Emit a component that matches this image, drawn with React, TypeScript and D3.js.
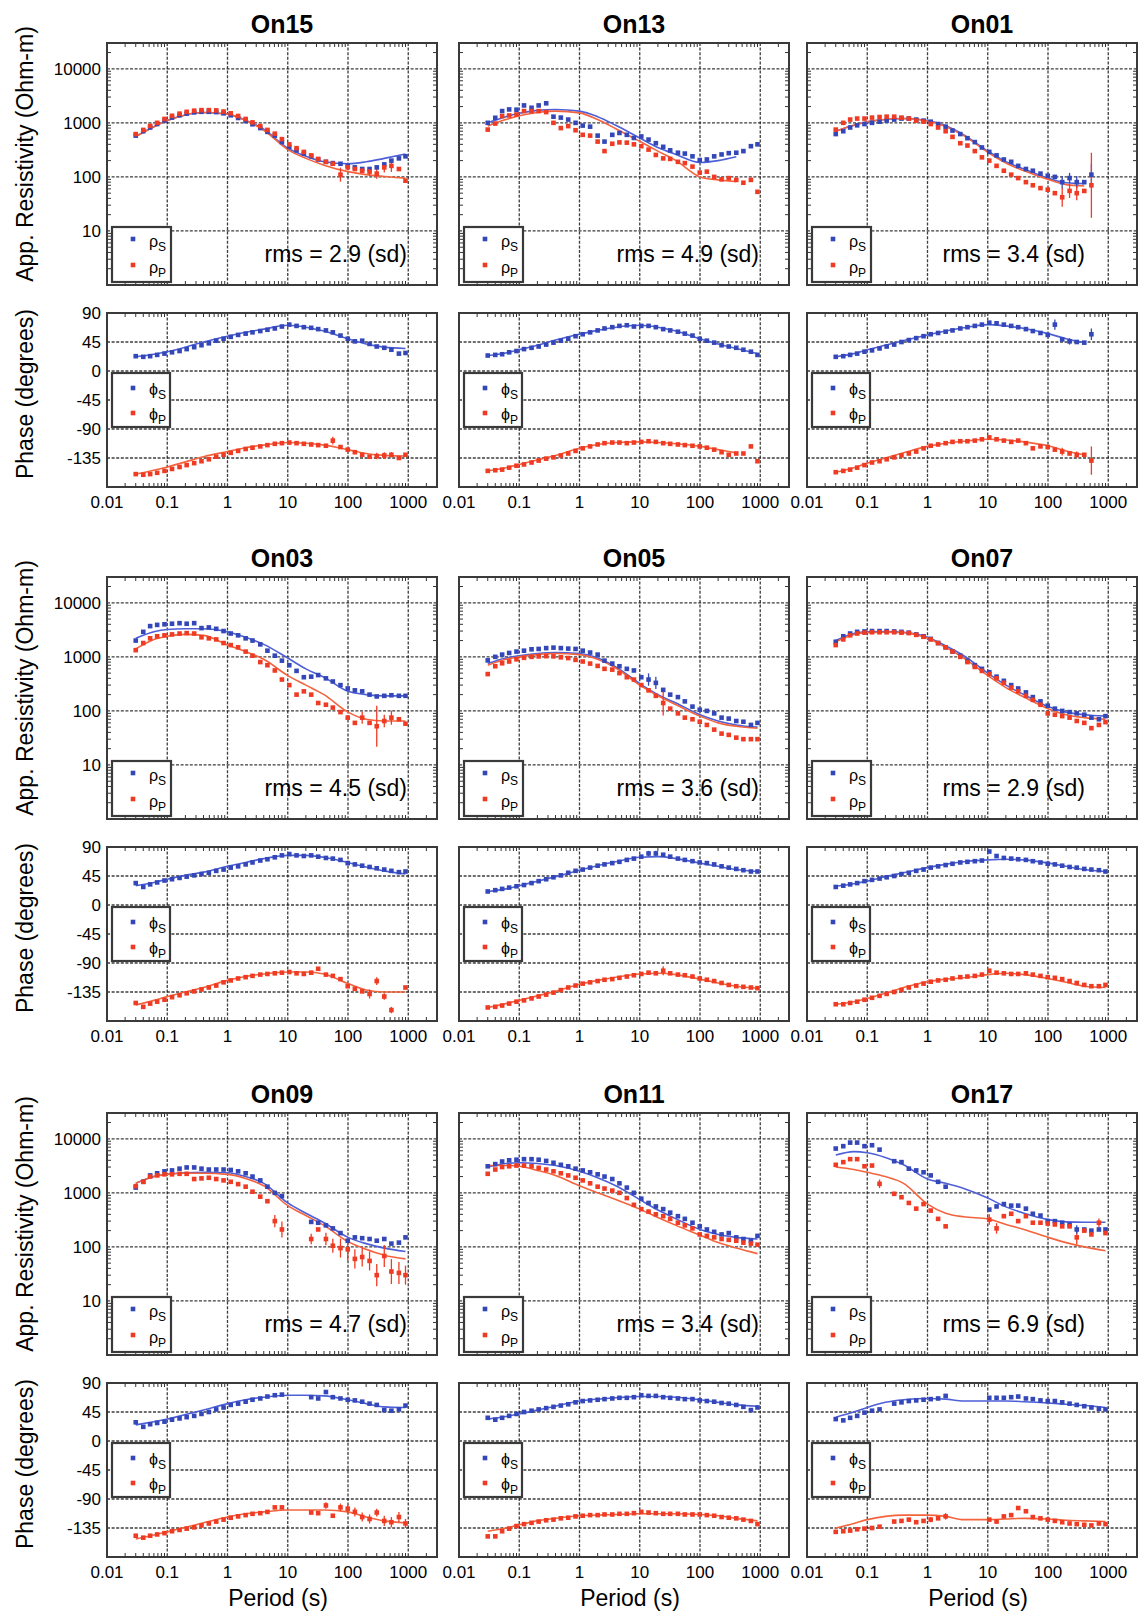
import React from 'react'
import * as d3 from 'd3'

// periods of the observed data points (s)
const PERIODS = [0.03, 0.04, 0.052, 0.068, 0.09, 0.12, 0.16, 0.21, 0.28, 0.37, 0.49, 0.65, 0.86, 1.13, 1.5, 2, 2.6, 3.5, 4.6, 6.1, 8, 10.6, 14, 18.5, 24.5, 32, 43, 56, 75, 99, 130, 172, 228, 300, 400, 525, 700, 900]
// periods at which the model responses are sampled
const MODEL_PERIODS = [0.03, 0.06, 0.1, 0.2, 0.4, 1, 2, 4, 10, 20, 40, 100, 200, 400, 900]

const X_TICKS = [0.01, 0.1, 1, 10, 100, 1000]
const X_TICK_LABELS = ['0.01', '0.1', '1', '10', '100', '1000']
const RHO_TICKS = [10, 100, 1000, 10000]
const PHASE_TICKS = [90, 45, 0, -45, -90, -135]
const PHASE_GRID = [45, 0, -45, -90, -135]

// ---- On15
const ON15_RHO_S = [580, 700, 820, 950, 1100, 1250, 1380, 1480, 1560, 1600, 1600, 1580, 1500, 1380, 1230, 1080, 940, 800, 680, 580, 440, 360, 310, 270, 240, 210, 190, 180, 175, 160, 150, 140, 140, 150, 170, 200, 220, 240]
const ON15_RHO_P = [620, 740, 880, 1000, 1180, 1350, 1480, 1600, 1680, 1720, 1720, 1700, 1620, 1500, 1340, 1180, 1020, 870, 740, 630, 500, 400, 340, 290, 250, 215, 190, 175, 110, 150, 140, 130, 125, 115, 150, 160, 140, 85]
const ON15_PHI_S = [23, 22, 23, 25, 27, 29, 31, 34, 37, 40, 43, 47, 50, 53, 56, 58, 60, 62, 64, 66, 69, 72, 70, 68, 67, 65, 63, 60, 55, 50, 46, 47, 42, 38, 36, 33, 27, 28]
const ON15_PHI_P = [-160, -161, -160, -158, -155, -152, -149, -146, -143, -140, -137, -133, -130, -127, -124, -121, -119, -117, -115, -113, -112, -111, -112, -113, -114, -115, -116, -108, -118, -122, -126, -130, -133, -132, -131, -130, -135, -130]
const ON15_MOD_RHO_S = [560, 850, 1100, 1400, 1550, 1450, 1120, 760, 340, 240, 190, 175, 190, 220, 265]
const ON15_MOD_RHO_P = [560, 850, 1100, 1400, 1550, 1450, 1100, 730, 320, 220, 165, 125, 110, 102, 95]
const ON15_MOD_PHI_S = [22, 26, 30, 37, 45, 54, 60, 65, 71, 68, 62, 50, 42, 37, 35]
const ON15_MOD_PHI_P = [-160, -154, -149, -141, -133, -125, -119, -115, -111, -112, -115, -122, -128, -131, -132]
const ON15_ERRORS = [['rhoP', 28, 1.35], ['rhoP', 32, 1.2], ['rhoP', 33, 1.25], ['rhoP', 34, 1.25], ['rhoP', 35, 1.3], ['phiP', 27, 6], ['phiP', 33, 5], ['phiP', 34, 5], ['phiP', 35, 4]]

// ---- On13
const ON13_RHO_S = [1000, 1240, 1650, 1770, 1750, 2100, 1900, 2100, 2300, 1300, 1250, 1150, 1000, 890, 850, 580, 450, 600, 650, 600, 525, 560, 490, 420, 360, 310, 280, 270, 240, 205, 210, 240, 260, 275, 280, 300, 370, 400]
const ON13_RHO_P = [750, 970, 1330, 1370, 1430, 1650, 1650, 1650, 1580, 1000, 800, 870, 730, 600, 580, 450, 300, 410, 435, 430, 400, 370, 320, 255, 220, 215, 190, 180, 155, 120, 125, 100, 90, 95, 88, 78, 88, 53]
const ON13_PHI_S = [24, 25, 26, 29, 31, 34, 36, 38, 41, 44, 47, 50, 54, 57, 60, 63, 66, 68, 70, 71, 69, 70, 70, 68, 65, 63, 61, 58, 55, 50, 47, 44, 40, 38, 36, 33, 30, 25]
const ON13_PHI_P = [-155, -154, -153, -150, -147, -145, -142, -139, -136, -134, -131, -128, -124, -120, -117, -114, -112, -111, -111, -112, -111, -110, -109, -110, -112, -113, -114, -115, -116, -117, -119, -122, -126, -130, -128, -128, -117, -140]
const ON13_MOD_RHO_S = [1000, 1300, 1500, 1700, 1770, 1650, 1300, 900, 525, 350, 260, 185, 200, 235, null]
const ON13_MOD_RHO_P = [870, 1150, 1350, 1550, 1650, 1530, 1150, 780, 455, 300, 200, 100, 88, 82, null]
const ON13_MOD_PHI_S = [24, 28, 33, 40, 48, 57, 63, 68, 71, 68, 62, 50, 42, 35, 27]
const ON13_MOD_PHI_P = [-155, -150, -145, -138, -131, -120, -114, -111, -110, -111, -113, -117, -122, -127, null]
const ON13_ERRORS = []

// ---- On01
const ON01_RHO_S = [620, 700, 820, 900, 950, 1000, 1050, 1100, 1150, 1200, 1200, 1150, 1100, 1050, 950, 850, 720, 620, 520, 440, 350, 290, 250, 210, 190, 160, 140, 130, 115, 105, 100, 80, 95, 80, 80, 110, null, null]
const ON01_RHO_P = [750, 1000, 1150, 1200, 1200, 1250, 1280, 1300, 1300, 1250, 1200, 1100, 1050, 950, 820, 700, 550, 420, 380, 300, 230, 200, 160, 130, 110, 95, 80, 70, 62, 58, 50, 42, 55, 50, 55, 70, null, null]
const ON01_PHI_S = [22, 23, 25, 27, 30, 32, 35, 38, 41, 45, 48, 51, 54, 57, 59, 61, 63, 66, 68, 70, 72, 75, 74, 72, 70, 68, 65, 62, 59, 56, 72, 49, 46, 45, 44, 57, null, null]
const ON01_PHI_P = [-157, -155, -153, -150, -146, -142, -140, -137, -134, -131, -128, -125, -120, -116, -114, -112, -110, -109, -109, -108, -106, -103, -106, -108, -110, -108, -112, -120, -117, -118, -122, -125, -128, -130, -130, -139, null, null]
const ON01_MOD_RHO_S = [700, 900, 1050, 1150, 1200, 1100, 880, 600, 300, 190, 140, 95, 78, 75, null]
const ON01_MOD_RHO_P = [700, 900, 1050, 1150, 1200, 1080, 860, 580, 285, 180, 130, 90, 72, 68, null]
const ON01_MOD_PHI_S = [22, 27, 33, 40, 47, 56, 62, 67, 72, 70, 66, 58, 50, 44, null]
const ON01_MOD_PHI_P = [-157, -150, -143, -135, -127, -117, -112, -109, -106, -107, -110, -116, -124, -130, null]
const ON01_ERRORS = [['rhoS', 31, 1.3], ['rhoS', 32, 1.25], ['rhoS', 33, 1.3], ['rhoS', 35, 1.6], ['rhoP', 31, 1.5], ['rhoP', 32, 1.35], ['rhoP', 33, 1.35], ['rhoP', 35, 4], ['phiS', 30, 8], ['phiS', 32, 5], ['phiS', 35, 9], ['phiP', 31, 6], ['phiP', 33, 5], ['phiP', 35, 22]]

// ---- On03
const ON03_RHO_S = [2000, 2900, 3700, 3900, 4000, 4100, 4200, 4100, 4200, 3400, 3500, 3300, 3000, 2700, 2500, 2200, 2000, 1700, 1300, 1050, 850, 700, 550, 420, 430, 460, 400, 350, 300, 260, 240, 230, 200, 185, 190, 195, 190, 190]
const ON03_RHO_P = [1330, 1800, 2200, 2400, 2500, 2600, 2700, 2750, 2700, 2300, 2200, 2100, 1800, 1650, 1500, 1250, 1050, 800, 700, 560, 380, 300, 200, 230, 200, 140, 130, 115, 95, 75, 60, 75, 60, 52, 65, 75, 70, 58]
const ON03_PHI_S = [34, 28, 32, 35, 38, 40, 42, 44, 46, 48, 50, 53, 55, 58, 60, 63, 66, 69, 71, 74, 77, 79, 77, 76, 77, 75, 73, 72, 70, 65, 63, 61, 59, 57, 55, 53, 51, 52]
const ON03_PHI_P = [-152, -158, -153, -150, -147, -143, -140, -137, -134, -131, -128, -125, -120, -117, -114, -112, -110, -108, -107, -106, -105, -104, -106, -107, -105, -99, -108, -110, -115, -126, -130, -134, -138, -118, -142, -163, null, -128]
const ON03_MOD_RHO_S = [2200, 2900, 3200, 3300, 3300, 2900, 2300, 1700, 950, 600, 420, 230, 200, 190, 190]
const ON03_MOD_RHO_P = [1400, 2100, 2400, 2600, 2500, 1650, 1250, 900, 450, 300, 200, 95, 70, 65, 65]
const ON03_MOD_PHI_S = [30, 35, 40, 46, 51, 60, 66, 72, 77, 77, 74, 66, 59, 53, 48]
const ON03_MOD_PHI_P = [-155, -148, -142, -135, -128, -117, -111, -107, -104, -104, -107, -122, -132, -135, -135]
const ON03_ERRORS = [['rhoP', 31, 1.3], ['rhoP', 33, 2.4], ['rhoP', 34, 1.3], ['rhoP', 35, 1.35], ['phiP', 32, 7], ['phiP', 33, 6], ['phiP', 34, 5], ['phiP', 35, 5]]

// ---- On05
const ON05_RHO_S = [860, 1000, 1100, 1180, 1250, 1300, 1380, 1400, 1450, 1480, 1450, 1420, 1400, 1300, 1200, 1100, 850, 750, 670, 600, 560, 420, 380, 330, 245, 200, 180, 150, 120, 105, 100, 90, 75, 72, 65, 63, 55, 60]
const ON05_RHO_P = [480, 670, 760, 820, 900, 960, 1000, 1020, 1030, 1020, 980, 950, 880, 820, 750, 680, 600, 580, 500, 420, 380, 300, 240, 190, 140, 110, 90, 75, 70, 63, 55, 45, 38, 36, 32, 30, 30, 30]
const ON05_PHI_S = [21, 23, 25, 27, 29, 31, 34, 37, 40, 43, 46, 50, 53, 55, 58, 61, 63, 65, 67, 70, 72, 75, 80, 80, 78, 75, 72, 70, 68, 66, 65, 63, 60, 58, 56, 54, 52, 52]
const ON05_PHI_P = [-159, -158, -156, -153, -150, -148, -145, -142, -139, -136, -132, -128, -125, -122, -120, -118, -116, -115, -113, -111, -109, -107, -105, -106, -102, -106, -108, -109, -111, -114, -116, -118, -121, -124, -126, -127, -128, -129]
const ON05_MOD_RHO_S = [750, 950, 1050, 1150, 1200, 1150, 950, 650, 320, 200, 140, 85, 65, 55, 50]
const ON05_MOD_RHO_P = [700, 900, 1000, 1100, 1150, 1100, 900, 620, 300, 190, 130, 80, 60, 52, 48]
const ON05_MOD_PHI_S = [21, 25, 30, 37, 44, 54, 61, 67, 74, 75, 72, 65, 60, 55, 52]
const ON05_MOD_PHI_P = [-159, -153, -148, -141, -134, -123, -117, -112, -107, -106, -108, -115, -121, -126, -129]
const ON05_ERRORS = [['rhoS', 22, 1.3], ['rhoS', 23, 1.3], ['rhoP', 24, 1.7], ['phiS', 22, 4], ['phiS', 23, 4], ['phiP', 24, 7]]

// ---- On07
const ON07_RHO_S = [1900, 2400, 2700, 2900, 2950, 3000, 3000, 3000, 2950, 2900, 2800, 2600, 2400, 2150, 1800, 1500, 1250, 1050, 850, 700, 600, 520, 430, 360, 300, 260, 220, 180, 150, 125, 110, 100, 95, 90, 85, 75, 70, 80]
const ON07_RHO_P = [1650, 2100, 2500, 2700, 2800, 2850, 2850, 2850, 2850, 2800, 2750, 2550, 2350, 2100, 1800, 1500, 1250, 1000, 800, 650, 550, 480, 400, 330, 270, 230, 190, 160, 130, 90, 85, 80, 75, 65, 60, 48, 55, 62]
const ON07_PHI_S = [28, 30, 32, 34, 37, 39, 41, 43, 45, 48, 50, 53, 55, 58, 60, 62, 64, 66, 67, 68, 69, 83, 76, 73, 72, 71, 70, 68, 66, 64, 63, 61, 59, 58, 56, 55, 54, 52]
const ON07_PHI_P = [-154, -154, -152, -150, -147, -144, -141, -138, -135, -132, -128, -125, -122, -119, -117, -116, -114, -112, -111, -110, -108, -102, -105, -106, -107, -107, -106, -108, -110, -112, -113, -115, -118, -121, -124, -126, -126, -124]
const ON07_MOD_RHO_S = [2000, 2700, 2900, 2950, 2850, 2300, 1600, 1050, 500, 300, 200, 120, 95, 85, 80]
const ON07_MOD_RHO_P = [1900, 2600, 2800, 2850, 2800, 2200, 1500, 950, 450, 270, 180, 110, 85, 75, 70]
const ON07_MOD_PHI_S = [29, 33, 37, 44, 50, 58, 63, 67, 70, 71, 70, 65, 60, 55, 52]
const ON07_MOD_PHI_P = [-154, -150, -145, -137, -128, -119, -115, -113, -108, -106, -108, -114, -120, -126, -128]
const ON07_ERRORS = []

// ---- On09
const ON09_RHO_S = [1250, 1600, 2100, 2300, 2500, 2600, 2800, 2950, 2950, 2800, 2700, 2700, 2700, 2650, 2500, 2300, 2000, 1700, 1300, 1000, 870, null, null, null, 290, 280, 250, 220, 180, 130, 150, 145, 140, 130, 140, 115, 120, 150]
const ON09_RHO_P = [1330, 1600, 2000, 2100, 2200, 2200, 2250, 2250, 1800, 1850, 1900, 1800, 1700, 1600, 1450, 1300, 1050, 850, 700, 300, 210, null, null, null, 140, 210, 140, 105, 95, 90, 60, 65, 55, 30, 68, 35, 33, 30]
const ON09_PHI_S = [29, 22, 26, 28, 30, 33, 35, 37, 39, 42, 45, 49, 52, 56, 58, 61, 64, 66, 69, 71, 72, null, null, null, 68, 66, 76, 68, 66, 64, 63, 61, 58, 56, 48, 47, 49, 55]
const ON09_PHI_P = [-147, -150, -147, -145, -143, -140, -138, -136, -134, -131, -128, -125, -122, -119, -117, -115, -113, -112, -110, -103, -103, null, null, null, -111, -112, -100, -116, -103, -105, -110, -118, -121, -111, -124, -126, -118, -128]
const ON09_MOD_RHO_S = [1500, 2000, 2200, 2350, 2400, 2350, 2000, 1500, 650, 420, 280, 150, 115, 95, 82]
const ON09_MOD_RHO_P = [1500, 2000, 2200, 2300, 2300, 2200, 1850, 1350, 580, 380, 250, 125, 90, 70, 60]
const ON09_MOD_PHI_S = [25, 30, 34, 41, 48, 58, 64, 68, 71, 71, 70, 64, 58, 53, 52]
const ON09_MOD_PHI_P = [-152, -146, -141, -134, -127, -118, -113, -110, -107, -107, -107, -110, -118, -124, -127]
const ON09_ERRORS = [['rhoP', 19, 1.3], ['rhoP', 20, 1.4], ['rhoP', 24, 1.25], ['rhoP', 26, 1.3], ['rhoP', 27, 1.35], ['rhoP', 28, 1.5], ['rhoP', 29, 1.6], ['rhoP', 30, 1.5], ['rhoP', 31, 1.5], ['rhoP', 32, 1.5], ['rhoP', 33, 1.6], ['rhoP', 34, 1.6], ['rhoP', 35, 1.7], ['rhoP', 36, 1.6], ['rhoP', 37, 1.5], ['phiP', 26, 5], ['phiP', 28, 6], ['phiP', 29, 7], ['phiP', 30, 7], ['phiP', 31, 7], ['phiP', 32, 7], ['phiP', 33, 6], ['phiP', 34, 8], ['phiP', 35, 8], ['phiP', 36, 8], ['phiP', 37, 7]]

// ---- On11
const ON11_RHO_S = [3100, 3400, 3800, 4000, 4100, 4200, 4200, 4100, 3900, 3600, 3300, 3100, 2800, 2600, 2400, 2200, 2000, 1800, 1500, 1250, 1000, 780, 650, 560, 500, 430, 370, 330, 280, 240, 210, 190, 170, 180, 150, 140, 130, 160]
const ON11_RHO_P = [2250, 2700, 3000, 3100, 3200, 3200, 3100, 2900, 2700, 2500, 2300, 2100, 1900, 1700, 1500, 1300, 1200, 1100, 1000, 800, 600, 500, 450, 400, 370, 330, 280, 250, 220, 170, 160, 150, 140, 135, 130, 120, 115, 110]
const ON11_PHI_S = [36, 33, 36, 39, 42, 45, 47, 49, 51, 53, 55, 57, 60, 62, 63, 64, 65, 66, 67, 67, 68, 71, 70, 70, 68, 67, 66, 65, 65, 63, 62, 61, 59, 58, 56, 53, 48, 52]
const ON11_PHI_P = [-148, -148, -140, -136, -132, -129, -127, -125, -123, -122, -120, -119, -117, -116, -115, -115, -114, -114, -113, -113, -112, -110, -111, -112, -113, -113, -113, -114, -114, -114, -115, -116, -118, -119, -120, -122, -124, -129]
const ON11_MOD_RHO_S = [3000, 3500, 3600, 3500, 3200, 2500, 1900, 1350, 750, 480, 330, 210, 170, 150, 140]
const ON11_MOD_RHO_P = [3200, 3200, 3100, 2600, 2100, 1350, 1000, 750, 500, 350, 250, 165, 120, 95, 75]
const ON11_MOD_PHI_S = [34, 38, 42, 48, 54, 62, 65, 67, 69, 69, 68, 64, 60, 56, 54]
const ON11_MOD_PHI_P = [-140, -135, -130, -124, -120, -116, -115, -114, -113, -113, -113, -114, -116, -120, -124]
const ON11_ERRORS = []

// ---- On17
const ON17_RHO_S = [6600, 7300, 8500, 8500, 7300, 7600, 6300, null, 3850, 3700, 2800, 2600, 2400, 2100, 1600, 1300, null, null, null, null, null, 490, 560, 620, 580, 580, 510, 410, 380, 300, 300, 280, 260, 210, 210, 200, 210, 210]
const ON17_RHO_P = [3300, 3700, 4200, 4200, 3100, 3200, 1470, null, 960, 830, 650, 510, 620, 470, 330, 240, null, null, null, null, null, 320, 220, 370, 410, 300, 370, 280, 280, 270, 260, 240, 240, 150, 200, 170, 280, 180]
const ON17_PHI_S = [34, 32, 36, 39, 44, 47, 49, null, 58, 60, 62, 63, 64, 65, 66, 70, null, null, null, null, null, 67, 67, 67, 68, 69, 66, 65, 63, 62, 62, 60, 58, 56, 54, 52, 50, 49]
const ON17_PHI_P = [-141, -140, -139, -137, -136, -135, -133, null, -125, -124, -122, -126, -124, -122, -120, -117, null, null, null, null, null, -122, -125, -117, -115, -104, -109, -118, -120, -122, -124, -126, -128, -129, -130, -131, -128, -129]
const ON17_MOD_RHO_S = [5000, 5800, 5500, 4500, 3300, 1800, 1500, 1200, 800, 550, 420, 320, 290, 285, 285]
const ON17_MOD_RHO_P = [3000, 2700, 2400, 2000, 1500, 620, 420, 360, 330, 260, 210, 150, 120, 100, 85]
const ON17_MOD_PHI_S = [37, 45, 52, 60, 64, 66, 65, 62, 62, 62, 61, 59, 57, 55, 52]
const ON17_MOD_PHI_P = [-135, -128, -122, -117, -115, -115, -117, -122, -122, -121, -120, -121, -123, -124, -125]
const ON17_ERRORS = [['rhoP', 6, 1.2], ['rhoP', 21, 1.25], ['rhoP', 22, 1.25], ['rhoP', 33, 1.35], ['rhoP', 36, 1.2], ['rhoS', 33, 1.2], ['phiP', 13, 4], ['phiP', 15, 5]]

const STATIONS = [
  { name: 'On15', rms: '2.9', rhoS: ON15_RHO_S, rhoP: ON15_RHO_P, phiS: ON15_PHI_S, phiP: ON15_PHI_P, mRhoS: ON15_MOD_RHO_S, mRhoP: ON15_MOD_RHO_P, mPhiS: ON15_MOD_PHI_S, mPhiP: ON15_MOD_PHI_P, errors: ON15_ERRORS },
  { name: 'On13', rms: '4.9', rhoS: ON13_RHO_S, rhoP: ON13_RHO_P, phiS: ON13_PHI_S, phiP: ON13_PHI_P, mRhoS: ON13_MOD_RHO_S, mRhoP: ON13_MOD_RHO_P, mPhiS: ON13_MOD_PHI_S, mPhiP: ON13_MOD_PHI_P, errors: ON13_ERRORS },
  { name: 'On01', rms: '3.4', rhoS: ON01_RHO_S, rhoP: ON01_RHO_P, phiS: ON01_PHI_S, phiP: ON01_PHI_P, mRhoS: ON01_MOD_RHO_S, mRhoP: ON01_MOD_RHO_P, mPhiS: ON01_MOD_PHI_S, mPhiP: ON01_MOD_PHI_P, errors: ON01_ERRORS },
  { name: 'On03', rms: '4.5', rhoS: ON03_RHO_S, rhoP: ON03_RHO_P, phiS: ON03_PHI_S, phiP: ON03_PHI_P, mRhoS: ON03_MOD_RHO_S, mRhoP: ON03_MOD_RHO_P, mPhiS: ON03_MOD_PHI_S, mPhiP: ON03_MOD_PHI_P, errors: ON03_ERRORS },
  { name: 'On05', rms: '3.6', rhoS: ON05_RHO_S, rhoP: ON05_RHO_P, phiS: ON05_PHI_S, phiP: ON05_PHI_P, mRhoS: ON05_MOD_RHO_S, mRhoP: ON05_MOD_RHO_P, mPhiS: ON05_MOD_PHI_S, mPhiP: ON05_MOD_PHI_P, errors: ON05_ERRORS },
  { name: 'On07', rms: '2.9', rhoS: ON07_RHO_S, rhoP: ON07_RHO_P, phiS: ON07_PHI_S, phiP: ON07_PHI_P, mRhoS: ON07_MOD_RHO_S, mRhoP: ON07_MOD_RHO_P, mPhiS: ON07_MOD_PHI_S, mPhiP: ON07_MOD_PHI_P, errors: ON07_ERRORS },
  { name: 'On09', rms: '4.7', rhoS: ON09_RHO_S, rhoP: ON09_RHO_P, phiS: ON09_PHI_S, phiP: ON09_PHI_P, mRhoS: ON09_MOD_RHO_S, mRhoP: ON09_MOD_RHO_P, mPhiS: ON09_MOD_PHI_S, mPhiP: ON09_MOD_PHI_P, errors: ON09_ERRORS },
  { name: 'On11', rms: '3.4', rhoS: ON11_RHO_S, rhoP: ON11_RHO_P, phiS: ON11_PHI_S, phiP: ON11_PHI_P, mRhoS: ON11_MOD_RHO_S, mRhoP: ON11_MOD_RHO_P, mPhiS: ON11_MOD_PHI_S, mPhiP: ON11_MOD_PHI_P, errors: ON11_ERRORS },
  { name: 'On17', rms: '6.9', rhoS: ON17_RHO_S, rhoP: ON17_RHO_P, phiS: ON17_PHI_S, phiP: ON17_PHI_P, mRhoS: ON17_MOD_RHO_S, mRhoP: ON17_MOD_RHO_P, mPhiS: ON17_MOD_PHI_S, mPhiP: ON17_MOD_PHI_P, errors: ON17_ERRORS },
]

const WIDTH = 1142
const HEIGHT = 1614
const COL_LEFT = [107, 459, 807]
const ROW_TOP = [43, 577, 1113]
const PW = 330
const RES_H = 242
const GAP = 28
const PH_H = 174
const FONT = '"Liberation Sans", Arial, Helvetica, sans-serif'

const BLUE = '#3447b8'
const RED = '#f03b24'
const BLUE_LINE = '#4e5fd8'
const RED_LINE = '#f3643e'

const GRID = { stroke: '#1c1c1c', strokeWidth: 1.3, strokeDasharray: '3 1.6', opacity: 0.85 }

function Markers({ values, x, y, color }) {
  return (
    <g fill={color}>
      {values.map((v, i) =>
        v == null ? null : (
          <rect key={i} x={x(PERIODS[i]) - 2.3} y={y(v) - 2.3} width={4.6} height={4.6} />
        )
      )}
    </g>
  )
}

function Panel({ st, col, row }) {
  const left = COL_LEFT[col]
  const top = ROW_TOP[row]
  const right = left + PW
  const resBottom = top + RES_H
  const phTop = resBottom + GAP
  const phBottom = phTop + PH_H

  const x = d3.scaleLog().domain([0.01, 3000]).range([left, right])
  const yr = d3.scaleLog().domain([1, 30000]).range([resBottom, top])
  const yp = d3.scaleLinear().domain([-180, 90]).range([phBottom, phTop])

  const minorX = x.ticks().filter((t) => !X_TICKS.includes(t) && t > 0.01)
  const minorY = yr.ticks().filter((t) => ![1, 10, 100, 1000, 10000].includes(t))

  const modelLine = (yScale) =>
    d3
      .line()
      .defined((d) => d[1] != null)
      .x((d) => x(d[0]))
      .y((d) => yScale(d[1]))
      .curve(d3.curveMonotoneX)
  const mk = (vals) => MODEL_PERIODS.map((p, i) => [p, vals[i]])

  const errBars = (kind) =>
    st.errors
      .filter(([key]) => key.startsWith(kind))
      .map(([key, idx, e], k) => {
        const v = st[key][idx]
        if (v == null) return null
        const color = key.endsWith('S') ? BLUE : RED
        let y1, y2
        if (kind === 'rho') {
          y1 = Math.min(yr(v / e), resBottom)
          y2 = Math.max(yr(v * e), top)
        } else {
          y1 = Math.min(yp(v - e), phBottom)
          y2 = Math.max(yp(v + e), phTop)
        }
        const px = x(PERIODS[idx])
        return <line key={k} x1={px} x2={px} y1={y1} y2={y2} stroke={color} strokeWidth={1.3} />
      })

  const rmsRight = col === 2 ? right - 52 : right - 30
  const phaseZero = yp(0)

  return (
    <g fontFamily={FONT}>
      <text x={(left + right) / 2 + 10} y={top - 10} textAnchor="middle" fontSize={25} fontWeight="bold">
        {st.name}
      </text>

      {/* resistivity panel */}
      <rect x={left} y={top} width={PW} height={RES_H} fill="white" />
      {RHO_TICKS.map((t) => (
        <line key={t} x1={left} x2={right} y1={yr(t)} y2={yr(t)} {...GRID} />
      ))}
      {X_TICKS.slice(1).map((t) => (
        <line key={t} x1={x(t)} x2={x(t)} y1={top} y2={resBottom} {...GRID} />
      ))}
      {minorX.map((t) => (
        <g key={t} stroke="#333" strokeWidth={1}>
          <line x1={x(t)} x2={x(t)} y1={top} y2={top + 4} />
          <line x1={x(t)} x2={x(t)} y1={resBottom} y2={resBottom - 4} />
          <line x1={x(t)} x2={x(t)} y1={phTop} y2={phTop + 4} />
          <line x1={x(t)} x2={x(t)} y1={phBottom} y2={phBottom - 4} />
        </g>
      ))}
      {minorY.map((t) => (
        <g key={t} stroke="#333" strokeWidth={1}>
          <line x1={left} x2={left + 4} y1={yr(t)} y2={yr(t)} />
          <line x1={right} x2={right - 4} y1={yr(t)} y2={yr(t)} />
        </g>
      ))}
      <path d={modelLine(yr)(mk(st.mRhoS))} fill="none" stroke={BLUE_LINE} strokeWidth={1.6} />
      <path d={modelLine(yr)(mk(st.mRhoP))} fill="none" stroke={RED_LINE} strokeWidth={1.6} />
      {errBars('rho')}
      <Markers values={st.rhoS} x={x} y={yr} color={BLUE} />
      <Markers values={st.rhoP} x={x} y={yr} color={RED} />
      <rect x={left} y={top} width={PW} height={RES_H} fill="none" stroke="#3a3a3a" strokeWidth={2} />
      {col === 0 &&
        RHO_TICKS.map((t) => (
          <text key={t} x={left - 6} y={yr(t)} dy="0.36em" textAnchor="end" fontSize={17}>
            {t}
          </text>
        ))}
      <text x={rmsRight} y={resBottom - 23} textAnchor="end" fontSize={23}>
        rms = {st.rms} (sd)
      </text>
      <g>
        <rect x={left + 5} y={resBottom - 58} width={59} height={55} fill="white" stroke="#3a3a3a" strokeWidth={2.2} />
        <rect x={left + 26 - 2.3} y={resBottom - 46 - 2.3} width={4.6} height={4.6} fill={BLUE} />
        <text x={left + 42} y={resBottom - 38} fontSize={16}>
          ρ<tspan fontSize={12} dy={4}>S</tspan>
        </text>
        <rect x={left + 26 - 2.3} y={resBottom - 20 - 2.3} width={4.6} height={4.6} fill={RED} />
        <text x={left + 42} y={resBottom - 12} fontSize={16}>
          ρ<tspan fontSize={12} dy={4}>P</tspan>
        </text>
      </g>

      {/* phase panel */}
      <rect x={left} y={phTop} width={PW} height={PH_H} fill="white" />
      {PHASE_GRID.map((t) => (
        <line key={t} x1={left} x2={right} y1={yp(t)} y2={yp(t)} {...GRID} />
      ))}
      {X_TICKS.slice(1).map((t) => (
        <line key={t} x1={x(t)} x2={x(t)} y1={phTop} y2={phBottom} {...GRID} />
      ))}
      {minorX.map((t) => (
        <g key={t} stroke="#333" strokeWidth={1}>
          <line x1={x(t)} x2={x(t)} y1={phTop} y2={phTop + 4} />
          <line x1={x(t)} x2={x(t)} y1={phBottom} y2={phBottom - 4} />
        </g>
      ))}
      <path d={modelLine(yp)(mk(st.mPhiS))} fill="none" stroke={BLUE_LINE} strokeWidth={1.6} />
      <path d={modelLine(yp)(mk(st.mPhiP))} fill="none" stroke={RED_LINE} strokeWidth={1.6} />
      {errBars('phi')}
      <Markers values={st.phiS} x={x} y={yp} color={BLUE} />
      <Markers values={st.phiP} x={x} y={yp} color={RED} />
      <rect x={left} y={phTop} width={PW} height={PH_H} fill="none" stroke="#3a3a3a" strokeWidth={2} />
      {col === 0 &&
        PHASE_TICKS.map((t) => (
          <text key={t} x={left - 6} y={yp(t)} dy="0.36em" textAnchor="end" fontSize={17}>
            {t}
          </text>
        ))}
      {X_TICKS.map((t, i) => (
        <text key={t} x={x(t)} y={phBottom + 21} textAnchor="middle" fontSize={17}>
          {X_TICK_LABELS[i]}
        </text>
      ))}
      <g>
        <rect x={left + 5} y={phaseZero + 2} width={58} height={54} fill="white" stroke="#3a3a3a" strokeWidth={2.2} />
        <rect x={left + 26 - 2.3} y={phaseZero + 17 - 2.3} width={4.6} height={4.6} fill={BLUE} />
        <text x={left + 42} y={phaseZero + 24} fontSize={16}>
          ϕ<tspan fontSize={12} dy={4}>S</tspan>
        </text>
        <rect x={left + 26 - 2.3} y={phaseZero + 42 - 2.3} width={4.6} height={4.6} fill={RED} />
        <text x={left + 42} y={phaseZero + 49} fontSize={16}>
          ϕ<tspan fontSize={12} dy={4}>P</tspan>
        </text>
      </g>

      {col === 0 && (
        <>
          <text transform={`translate(33, ${top + RES_H / 2 - 10}) rotate(-90)`} textAnchor="middle" fontSize={23}>
            App. Resistivity (Ohm-m)
          </text>
          <text transform={`translate(33, ${phTop + PH_H / 2 - 6}) rotate(-90)`} textAnchor="middle" fontSize={23}>
            Phase (degrees)
          </text>
        </>
      )}
      {row === 2 && (
        <text x={(left + right) / 2 + 6} y={1606} textAnchor="middle" fontSize={23}>
          Period (s)
        </text>
      )}
    </g>
  )
}

export default function App() {
  return (
    <svg
      width={WIDTH}
      height={HEIGHT}
      style={{ position: 'absolute', left: 0, top: 0, background: 'white' }}
    >
      <rect width={WIDTH} height={HEIGHT} fill="white" />
      {STATIONS.map((st, i) => (
        <Panel key={st.name} st={st} col={i % 3} row={Math.floor(i / 3)} />
      ))}
    </svg>
  )
}
